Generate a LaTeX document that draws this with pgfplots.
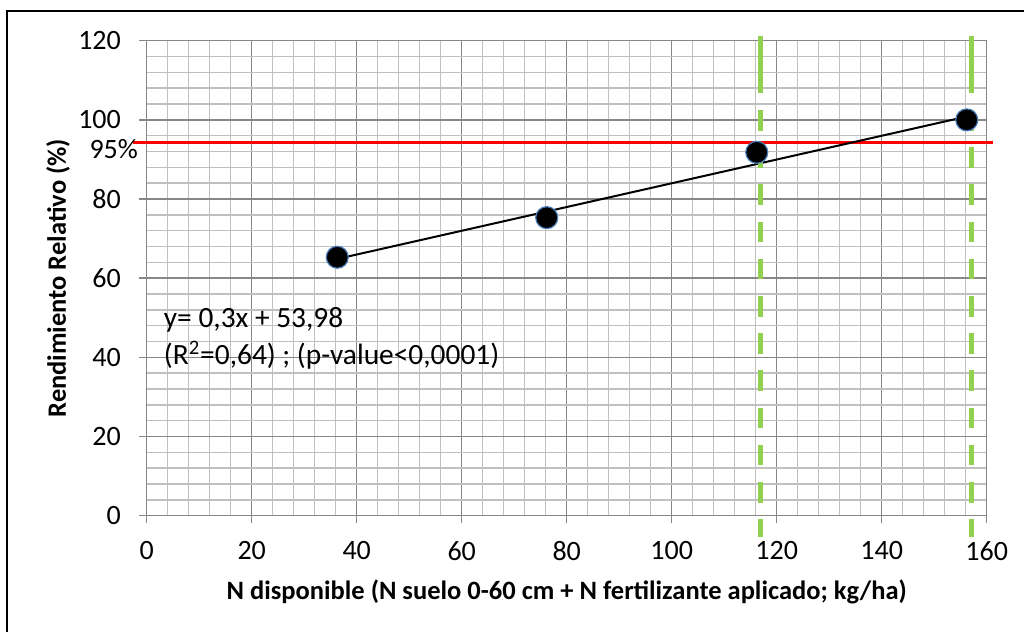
\documentclass[border=0pt]{standalone}
\usepackage{pgfplots}
\pgfplotsset{compat=1.18}
\usepackage{fontspec}
\setmainfont{Carlito}
\definecolor{majgrid}{HTML}{878787}
\definecolor{mingrid}{HTML}{C0C0C0}
\definecolor{mkedge}{HTML}{4A7EBB}
\definecolor{xlgreen}{HTML}{92D050}
\begin{document}
\begin{tikzpicture}
\useasboundingbox (0,0) rectangle (512pt,316pt);
\draw[line width=0.8pt] (3.5pt,-1pt) -- (3.5pt,310.5pt) -- (513pt,310.5pt);
\begin{axis}[
  at={(73.35pt,58.15pt)}, anchor=south west,
  scale only axis, width=420pt, height=237.5pt,
  xmin=0, xmax=160, ymin=0, ymax=120,
  xtick={0,20,...,160}, ytick={0,20,...,120},
  minor tick num=4,
  grid=both,
  major grid style={majgrid, line width=0.75pt},
  minor grid style={mingrid, line width=0.75pt},
  axis line style={majgrid, line width=0.75pt},
  tick align=outside, major tick length=3.9pt, minor tick length=0pt,
  tick style={majgrid, line width=0.75pt},
  xtick pos=bottom, ytick pos=left,
  clip=false,
  /pgf/number format/assume math mode=true,
  ticklabel style={font=\fontsize{14}{16}\selectfont},
  xticklabel style={yshift=-5.5pt},
  yticklabel style={xshift=-5.5pt},
  label style={font=\fontsize{13.25}{15}\selectfont\bfseries},
  xlabel={N disponible (N suelo 0-60 cm + N fertilizante aplicado; kg/ha)},
  ylabel={Rendimiento Relativo (\%)},
  xlabel style={at={(axis description cs:0.5,-0.16)}, anchor=center},
  ylabel style={at={(axis description cs:-0.1056,0.5)}, anchor=center},
]
% 95% line
\addplot[red, line width=1.3pt, forget plot] coordinates {(-2.6,94.3) (161.2,94.3)};
% trend line
\addplot[black, line width=1pt, forget plot] coordinates {(36.3,64.87) (156.2,100.84)};
% data points
\addplot[only marks, mark=*, mark size=5.5pt, mark options={fill=black, draw=mkedge, line width=0.6pt}] coordinates {
(36.3,65.3) (76.2,75.3) (116.2,91.8) (156.2,100.0)};
% green dashed verticals
\addplot[xlgreen, line width=2.5pt] coordinates {(116.9,121.3) (116.9,106.7)};
\addplot[xlgreen, line width=2.5pt, dash pattern=on 10.3pt off 8.3pt] coordinates {(116.9,102.5) (116.9,-5.3)};
\addplot[xlgreen, line width=2.5pt] coordinates {(157.1,121.3) (157.1,106.7)};
\addplot[xlgreen, line width=2.5pt, dash pattern=on 10.3pt off 8.3pt] coordinates {(157.1,102.5) (157.1,-5.3)};
\node[anchor=east, font=\fontsize{14}{16}\selectfont, inner sep=0pt] at (axis cs:-1.6,92.7) {95\%};
\node[anchor=west, font=\fontsize{14.7}{17}\selectfont, inner sep=0pt] at (axis cs:3.2,49.4) {y= 0,3x + 53,98};
\node[anchor=west, font=\fontsize{14.7}{17}\selectfont, inner sep=0pt] at (axis cs:3.2,40.5) {(R\textsuperscript{2}=0,64) ; (p-value<0,0001)};
\end{axis}
\end{tikzpicture}
\end{document}
